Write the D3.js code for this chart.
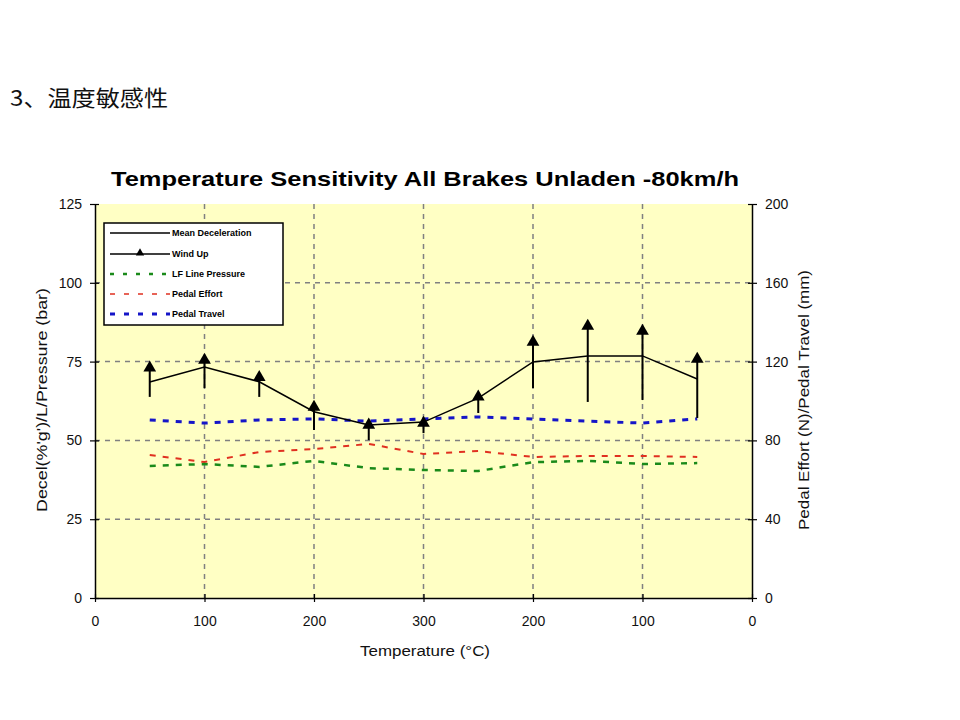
<!DOCTYPE html>
<html><head><meta charset="utf-8">
<script src="https://cdn.jsdelivr.net/npm/d3@7"></script>
<style>
body{margin:0;background:#fff;}
svg{display:block;font-family:Arial,"Liberation Sans",sans-serif;}
</style></head>
<body>
<svg id="c" width="960" height="720"></svg>
<script>
// ---- data ----
const xPositions = [50,100,150,200,250,300,350,400,450,500,550];
const xTickValues = [0,100,200,300,400,500,600];
const xTickLabels = ["0","100","200","300","200","100","0"];
const leftTicks = [0,25,50,75,100,125];
const rightTicks = [0,40,80,120,160,200];
const meanDecel = [68.5,73.3,68.6,59.1,54.9,55.8,63.4,74.9,76.8,76.8,69.5];
const windUpHigh = [73.0,75.5,70.0,60.6,54.9,55.5,63.8,81.2,86.3,84.7,75.8];
const windUpLow  = [63.8,66.6,63.8,53.3,50.1,52.3,58.7,66.6,62.2,62.8,57.1];
const lfLinePressure = [41.9,42.5,41.6,43.5,41.2,40.6,40.3,43.1,43.5,42.5,42.8];
const pedalEffort = [72.6,69.0,74.1,75.6,78.2,73.1,74.6,71.6,72.1,72.1,71.6];
const pedalTravel = [90.4,88.8,90.4,90.9,89.8,90.9,91.9,90.9,89.8,88.8,90.9];
const legendNames = ["Mean Deceleration","Wind Up","LF Line Pressure","Pedal Effort","Pedal Travel"];

const svg = d3.select("#c");
const L=95, R=752, T=204, B=598;
const x = d3.scaleLinear().domain([0,600]).range([L,R]);
const yL = d3.scaleLinear().domain([0,125]).range([B,T]);
const yR = d3.scaleLinear().domain([0,200]).range([B,T]);

// heading
svg.append("text").attr("x",10).attr("y",106)
  .attr("font-family","'Noto Sans CJK SC',sans-serif").attr("font-size",22).attr("fill","#111")
  .attr("textLength",158).attr("lengthAdjust","spacingAndGlyphs")
  .text("3、温度敏感性");

// title
svg.append("text").attr("x",425).attr("y",186).attr("text-anchor","middle")
  .attr("font-weight","bold").attr("font-size",21).attr("fill","#000")
  .attr("textLength",628).attr("lengthAdjust","spacingAndGlyphs")
  .text("Temperature Sensitivity All Brakes Unladen -80km/h");

// plot bg
svg.append("rect").attr("x",L).attr("y",T).attr("width",R-L).attr("height",B-T).attr("fill","#FFFFC4");

// grid
const grid = svg.append("g").attr("stroke","#808080").attr("stroke-width",1.5).attr("stroke-dasharray","5,5");
leftTicks.filter(v=>v>0 && v<125).forEach(v=>{
  grid.append("line").attr("x1",L).attr("x2",R).attr("y1",yL(v)).attr("y2",yL(v));
});
xTickValues.filter(v=>v>0 && v<600).forEach(v=>{
  grid.append("line").attr("x1",x(v)).attr("x2",x(v)).attr("y1",T).attr("y2",B);
});

// axes
const axL = d3.axisLeft(yL).tickValues(leftTicks).tickSizeInner(5).tickSizeOuter(0).tickPadding(8);
const gL = svg.append("g").attr("transform",`translate(${L},0)`).call(axL);
const axR = d3.axisRight(yR).tickValues(rightTicks).tickSizeInner(5).tickSizeOuter(0).tickPadding(8);
const gR = svg.append("g").attr("transform",`translate(${R},0)`).call(axR);
const axB = d3.axisBottom(x).tickValues(xTickValues).tickFormat((d,i)=>xTickLabels[i]).tickSizeInner(4).tickSizeOuter(0).tickPadding(14);
const gB = svg.append("g").attr("transform",`translate(0,${B})`).call(axB);
[gL,gR,gB].forEach(g=>{
  g.selectAll("text").attr("font-size",14).attr("fill","#111").attr("font-family","Arial,'Liberation Sans',sans-serif");
  g.select(".domain").attr("stroke","#000").attr("stroke-width",1.5);
  g.selectAll(".tick line").attr("stroke","#000").attr("stroke-width",1.2);
});
// crossing ticks
gL.selectAll(".tick line").attr("x1",4);
gR.selectAll(".tick line").attr("x1",-4);
gB.selectAll(".tick line").attr("y1",-4);

// axis titles
svg.append("text").attr("transform","translate(47,400) rotate(-90)").attr("text-anchor","middle")
  .attr("font-size",14).attr("fill","#111").attr("textLength",224).attr("lengthAdjust","spacingAndGlyphs")
  .text("Decel(%'g')/L/Pressure (bar)");
svg.append("text").attr("transform","translate(809,400) rotate(-90)").attr("text-anchor","middle")
  .attr("font-size",14).attr("fill","#111").attr("textLength",260).attr("lengthAdjust","spacingAndGlyphs")
  .text("Pedal Effort (N)/Pedal Travel (mm)");
svg.append("text").attr("x",425).attr("y",656).attr("text-anchor","middle")
  .attr("font-size",14).attr("fill","#111").attr("textLength",130).attr("lengthAdjust","spacingAndGlyphs")
  .text("Temperature (°C)");

// series
const lineL = d3.line().x((d,i)=>x(xPositions[i])).y(d=>yL(d));
const lineR = d3.line().x((d,i)=>x(xPositions[i])).y(d=>yR(d));

svg.append("path").datum(pedalTravel).attr("d",lineR).attr("fill","none")
  .attr("stroke","#1515c8").attr("stroke-width",3).attr("stroke-dasharray","6,7");
svg.append("path").datum(pedalEffort).attr("d",lineR).attr("fill","none")
  .attr("stroke","#e03020").attr("stroke-width",2).attr("stroke-dasharray","6,7");
svg.append("path").datum(lfLinePressure).attr("d",lineL).attr("fill","none")
  .attr("stroke","#1a8a1a").attr("stroke-width",2.5).attr("stroke-dasharray","6,7");

svg.append("path").datum(meanDecel).attr("d",lineL).attr("fill","none")
  .attr("stroke","#000").attr("stroke-width",1.5);

// wind up
const tri = d3.symbol().type(d3.symbolTriangle).size(70);
const wu = svg.append("g");
xPositions.forEach((p,i)=>{
  wu.append("line").attr("x1",x(p)).attr("x2",x(p)).attr("y1",yL(windUpLow[i])).attr("y2",yL(windUpHigh[i]))
    .attr("stroke","#000").attr("stroke-width",2);
  wu.append("path").attr("d",tri).attr("transform",`translate(${x(p)},${yL(windUpHigh[i])})`).attr("fill","#000");
});

// legend
const lg = svg.append("g");
lg.append("rect").attr("x",104).attr("y",223).attr("width",179).attr("height",102)
  .attr("fill","#fff").attr("stroke","#000").attr("stroke-width",1.5);
const rows = [233,254,274,294,314];
const styles = [
  {c:"#000",w:1.5,d:null},
  {c:"#000",w:1.5,d:null,m:true},
  {c:"#1a8a1a",w:2.5,d:"4,9"},
  {c:"#e03020",w:1.5,d:"5,9"},
  {c:"#1515c8",w:3,d:"5,9"}
];
legendNames.forEach((n,i)=>{
  const s=styles[i];
  const l=lg.append("line").attr("x1",110).attr("x2",170).attr("y1",rows[i]).attr("y2",rows[i])
    .attr("stroke",s.c).attr("stroke-width",s.w);
  if(s.d) l.attr("stroke-dasharray",s.d);
  if(s.m) lg.append("path").attr("d",d3.symbol().type(d3.symbolTriangle).size(30)).attr("transform",`translate(140,${rows[i]-1})`).attr("fill","#000");
  lg.append("text").attr("x",172).attr("y",rows[i]+3).attr("font-size",9).attr("font-weight","bold")
    .attr("fill","#000").text(n);
});
</script>
</body></html>
